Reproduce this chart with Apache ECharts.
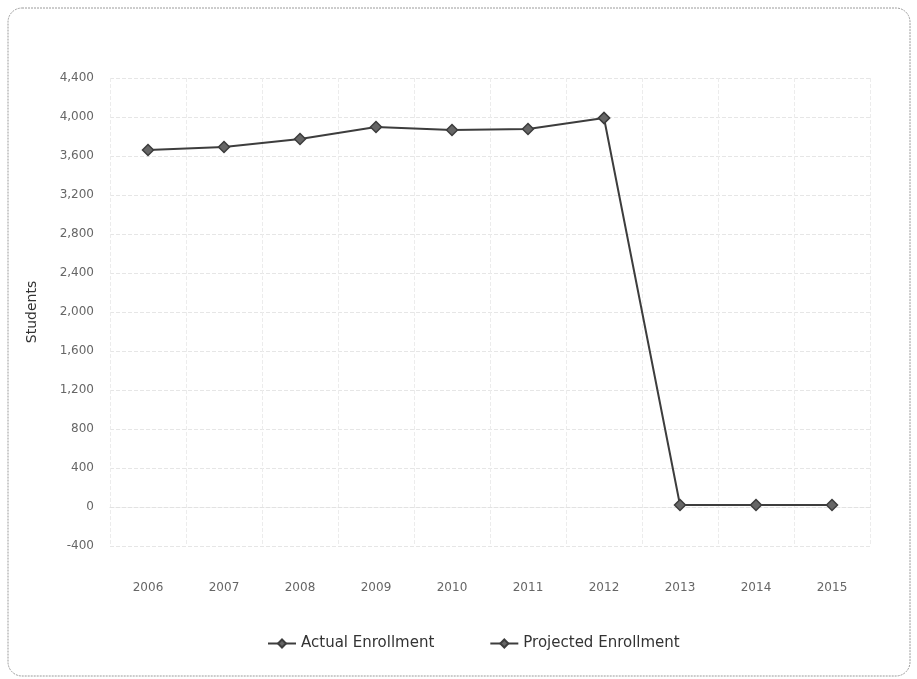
<!DOCTYPE html>
<html>
<head>
<meta charset="utf-8">
<style>
  html, body { margin: 0; padding: 0; background: #fff; }
  #chart { width: 917px; height: 679px; }
</style>
<script src="https://cdn.jsdelivr.net/npm/echarts@6/dist/echarts.min.js"></script>
</head>
<body>
<div id="chart"></div>
<script>
const years = ['2006', '2007', '2008', '2009', '2010', '2011', '2012', '2013', '2014', '2015'];
const actualEnrollment = [3662, 3692, 3774, 3897, 3867, 3877, 3990, null, null, null];
const projectedEnrollment = [null, null, null, null, null, null, 3990, 20, 20, 20];

const chart = echarts.init(document.getElementById('chart'), null, { renderer: 'canvas' });

const lineColor = '#3d3d3d';
const fontFamily = 'DejaVu Sans, Verdana, sans-serif';
const labelStyle = { color: '#666', fontFamily, fontSize: 12 };

function lineSeries(name, data) {
    return {
        name,
        type: 'line',
        data,
        symbol: 'diamond',
        symbolSize: 11,
        connectNulls: false,
        lineStyle: { color: lineColor, width: 2 },
        itemStyle: { color: '#666', borderColor: lineColor, borderWidth: 1.5 },
        emphasis: { disabled: true }
    };
}

chart.setOption({
    animation: false,
    graphic: [{
        type: 'rect',
        shape: { x: 8, y: 8, width: 902, height: 668, r: 14 },
        style: { fill: 'none', stroke: '#9a9a9a', lineWidth: 1, lineDash: [2, 1] },
        silent: true
    }],
    grid: { left: 110, right: 47, top: 78, bottom: 133 },
    legend: {
        bottom: 23,
        left: 262,
        itemGap: 55,
        itemWidth: 28,
        itemHeight: 10,
        textStyle: { color: '#333', fontFamily, fontSize: 15 },
        data: ['Actual Enrollment', 'Projected Enrollment']
    },
    xAxis: {
        type: 'category',
        data: years,
        boundaryGap: true,
        axisLine: { show: true, lineStyle: { color: '#e2e2e2', type: 'dashed' } },
        axisTick: { show: false },
        axisLabel: Object.assign({ margin: 36 }, labelStyle),
        splitLine: { show: true, interval: 0, lineStyle: { color: '#ececec', type: 'dashed' } }
    },
    yAxis: {
        type: 'value',
        min: -400,
        max: 4400,
        interval: 400,
        name: 'Students',
        nameLocation: 'middle',
        nameGap: 71,
        nameTextStyle: { color: '#333', fontFamily, fontSize: 14 },
        axisLine: { show: false },
        axisTick: { show: false },
        axisLabel: Object.assign({
            margin: 16,
            formatter: v => v.toLocaleString('en-US')
        }, labelStyle),
        splitLine: { lineStyle: { color: '#e6e6e6', type: 'dashed' } }
    },
    series: [
        lineSeries('Actual Enrollment', actualEnrollment),
        lineSeries('Projected Enrollment', projectedEnrollment)
    ]
});
</script>
</body>
</html>
